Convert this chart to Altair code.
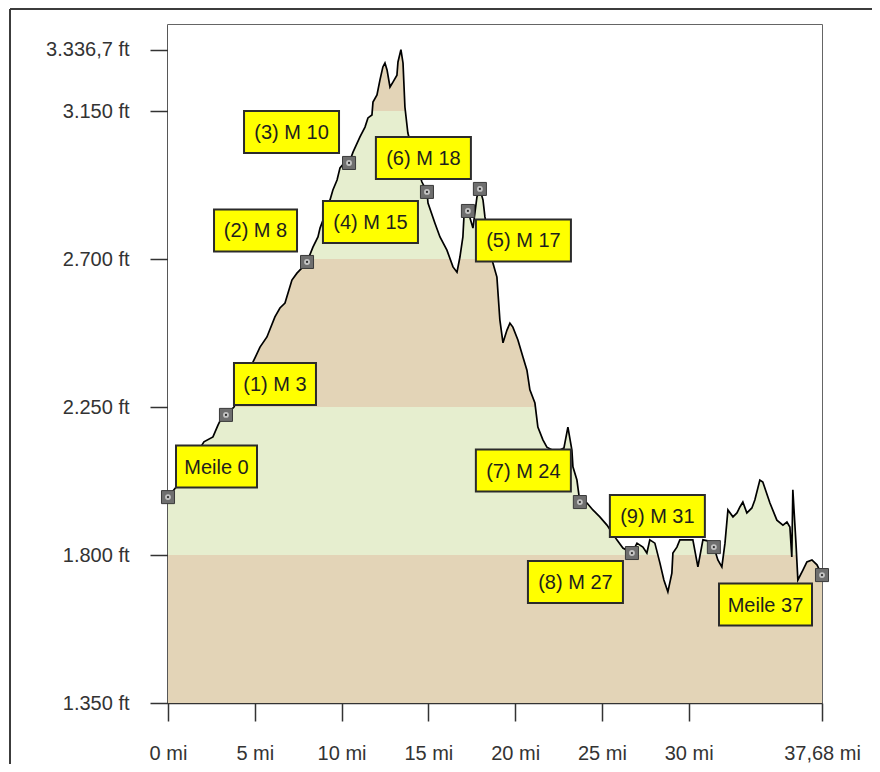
import altair as alt
import pandas as pd

# ---------------- data ----------------
profile_miles = [0.00, 0.46, 2.07, 2.59, 2.88, 3.11, 3.34, 3.80, 4.90, 5.30, 5.70, 6.16, 6.45, 6.74,
                 7.14, 7.43, 7.72, 8.01, 8.35, 8.64, 8.76, 9.04, 9.33, 9.50, 9.74, 9.91, 10.20, 10.43,
                 10.66, 11.06, 11.35, 11.52, 11.75, 11.81, 12.04, 12.21, 12.38, 12.50, 12.62, 12.79,
                 12.96, 13.19, 13.25, 13.42, 13.54, 13.65, 13.82, 14.23, 14.63, 14.92, 14.98, 15.38,
                 15.67, 16.07, 16.42, 16.65, 16.82, 16.99, 17.05, 17.28, 17.57, 17.80, 17.97, 18.15,
                 18.26, 18.49, 18.72, 18.95, 19.12, 19.30, 19.53, 19.70, 19.87, 20.16, 20.45, 20.68,
                 20.85, 21.14, 21.31, 21.60, 21.83, 22.35, 22.81, 23.04, 23.27, 23.33, 23.56, 23.62,
                 23.73, 24.14, 24.48, 24.88, 25.29, 25.86, 26.21, 26.73, 27.02, 27.36, 27.59, 27.76,
                 28.05, 28.34, 28.57, 28.80, 29.03, 29.09, 29.32, 29.49, 30.24, 30.53, 30.82, 31.34,
                 31.45, 31.68, 31.91, 32.09, 32.26, 32.55, 32.78, 32.95, 33.12, 33.35, 33.64, 33.81,
                 34.10, 34.27, 34.68, 35.08, 35.43, 35.66, 35.83, 35.94, 36.00, 36.18, 36.29, 36.58,
                 36.81, 37.10, 37.39, 37.68]
profile_feet = [1976, 2006, 2144, 2159, 2195, 2220, 2226, 2250, 2387, 2432, 2463, 2524, 2551, 2566,
                2636, 2657, 2673, 2691, 2736, 2767, 2794, 2834, 2879, 2910, 2940, 2977, 2995, 2992,
                3025, 3071, 3101, 3129, 3138, 3177, 3199, 3244, 3284, 3296, 3275, 3223,
                3238, 3259, 3299, 3336.7, 3296, 3162, 3083, 3001, 2934, 2904, 2870, 2809,
                2767, 2727, 2676, 2660, 2706, 2767, 2828, 2846, 2794, 2889, 2913, 2879,
                2828, 2758, 2688, 2645, 2515, 2445, 2484, 2505, 2493, 2454, 2402, 2362,
                2302, 2262, 2189, 2150, 2128, 2113, 2125, 2189, 2119, 2068, 2028, 2004,
                1961, 1958, 1937, 1916, 1891, 1846, 1821, 1806, 1836, 1824, 1806, 1846,
                1836, 1776, 1724, 1688, 1745, 1806, 1824, 1846, 1846, 1764, 1846, 1840,
                1824, 1785, 1764, 1836, 1937, 1916, 1928, 1946, 1961, 1928, 1943, 1967,
                2028, 2022, 1958, 1906, 1891, 1900, 1885, 1794, 1998, 1836, 1724, 1754,
                1779, 1785, 1770, 1739]

wp_names = ["Meile 0", "(1) M 3", "(2) M 8", "(3) M 10", "(4) M 15", "(5) M 17",
            "(6) M 18", "(7) M 24", "(8) M 27", "(9) M 31", "Meile 37"]
wp_miles = [0.00, 3.34, 8.01, 10.43, 14.92, 17.28, 17.97, 23.73, 26.73, 31.45, 37.68]
wp_feet = [1976, 2226, 2691, 2992, 2904, 2846, 2913, 1961, 1806, 1824, 1739]

band_low = [1350, 1800, 2250, 2700, 3150]
band_high = [1800, 2250, 2700, 3150, 3411.5]
band_kind = ["tan", "green", "tan", "green", "tan"]

x_ticks = [0, 5, 10, 15, 20, 25, 30, 37.68]
x_tick_labels = ["0 mi", "5 mi", "10 mi", "15 mi", "20 mi", "25 mi", "30 mi", "37,68 mi"]
y_ticks = [1350, 1800, 2250, 2700, 3150, 3336.7]
y_tick_labels = ["1.350 ft", "1.800 ft", "2.250 ft", "2.700 ft", "3.150 ft", "3.336,7 ft"]

# ---------------- layout (pixels) ----------------
W, H = 654, 678
X_DOM = [0, 37.68]
Y_DOM = [1350, 3411.5]
label_dx = [48.5, 49, -51.5, -57.5, -56.5, 55.5, -56.5, -56.5, -56.5, -56.5, -56.5]
label_dy = [-30.5, -31, -31.5, -31, 30, 29.5, -31, -31.5, 29, -31, 29.5]
label_w = [81, 82, 83, 95, 95, 95, 95, 95, 95, 95, 93]
LABEL_H = 42

FONT = "Liberation Sans"
INK = "#333333"

px_per_mi = W / (X_DOM[1] - X_DOM[0])
px_per_ft = H / (Y_DOM[1] - Y_DOM[0])

prof = pd.DataFrame({"mile": profile_miles, "elev": profile_feet})
prof["top"] = Y_DOM[1]

bands = pd.DataFrame({"lo": band_low, "hi": band_high, "kind": band_kind})
bands["x0"] = X_DOM[0]
bands["x1"] = X_DOM[1]

wp = pd.DataFrame({"name": wp_names, "mile": wp_miles, "elev": wp_feet,
                   "dx": label_dx, "dy": label_dy, "w": label_w})
wp["cx"] = wp["mile"] + wp["dx"] / px_per_mi
wp["cy"] = wp["elev"] - wp["dy"] / px_per_ft
wp["bx0"] = wp["cx"] - wp["w"] / 2 / px_per_mi
wp["bx1"] = wp["cx"] + wp["w"] / 2 / px_per_mi
wp["by0"] = wp["cy"] - LABEL_H / 2 / px_per_ft
wp["by1"] = wp["cy"] + LABEL_H / 2 / px_per_ft


def label_expr(vals, labs):
    e = "''"
    for v, l in reversed(list(zip(vals, labs))):
        e = f"abs(datum.value - {v}) < 0.001 ? '{l}' : ({e})"
    return e


x_scale = alt.Scale(domain=X_DOM, nice=False, zero=False)
y_scale = alt.Scale(domain=Y_DOM, nice=False, zero=False)
common_axis = dict(tickSize=18, tickColor=INK, tickWidth=1.5, domainColor=INK, domainWidth=1.5,
                   labelFont=FONT, labelFontSize=20, labelColor=INK, grid=False, title=None,
                   labelOverlap=False, labelFlush=False)
x_axis = alt.Axis(values=x_ticks, labelExpr=label_expr(x_ticks, x_tick_labels), labelPadding=22,
                  **common_axis)
y_axis = alt.Axis(values=y_ticks, labelExpr=label_expr(y_ticks, y_tick_labels), labelPadding=21,
                  **common_axis)


def X(f):
    return alt.X(f, type="quantitative", scale=x_scale, axis=x_axis)


def Y(f):
    return alt.Y(f, type="quantitative", scale=y_scale, axis=y_axis)


band_layer = alt.Chart(bands).mark_rect(strokeWidth=0).encode(
    x=X("x0"), x2="x1", y=Y("lo"), y2="hi",
    color=alt.Color("kind:N", scale=alt.Scale(domain=["tan", "green"], range=["#e3d4b7", "#e6eecf"]),
                    legend=None),
)

mask = alt.Chart(prof).mark_area(color="white", opacity=1).encode(
    x=X("mile"), y=Y("elev"), y2="top"
)

line = alt.Chart(prof).mark_line(color="#000000", strokeWidth=1.7).encode(
    x=X("mile"), y=Y("elev")
)

marker_sq = alt.Chart(wp).mark_point(shape="square", filled=True, size=170, color="#6f6f6f",
                                     stroke="#3a3a3a", strokeWidth=1, opacity=1).encode(
    x=X("mile"), y=Y("elev")
)
marker_ring = alt.Chart(wp).mark_point(shape="circle", filled=True, size=34, color="#c4c4c4",
                                       opacity=1).encode(x=X("mile"), y=Y("elev"))
marker_dot = alt.Chart(wp).mark_point(shape="circle", filled=True, size=5, color="#2a2a2a",
                                      opacity=1).encode(x=X("mile"), y=Y("elev"))

boxes = alt.Chart(wp).mark_rect(color="#ffff00", stroke="#2b2b2b", strokeWidth=2).encode(
    x=X("bx0"), x2="bx1", y=Y("by0"), y2="by1"
)
texts = alt.Chart(wp).mark_text(font=FONT, fontSize=20, color="#1e1e1e", align="center",
                                baseline="middle", dy=1).encode(
    x=X("cx"), y=Y("cy"), text="name:N"
)

dummy = pd.DataFrame({"a": [0]})
frame_left = alt.Chart(dummy).mark_rule(color="#3c3c3c", strokeWidth=2).encode(
    x=alt.value(-158), y=alt.value(-16), y2=alt.value(760)
)
frame_top = alt.Chart(dummy).mark_rule(color="#3c3c3c", strokeWidth=2).encode(
    x=alt.value(-158), x2=alt.value(720), y=alt.value(-16)
)

chart = alt.layer(
    band_layer, mask, line, marker_sq, marker_ring, marker_dot, boxes, texts, frame_left, frame_top
).properties(
    width=W, height=H, background="white",
    padding={"left": 160, "top": 17, "right": 50, "bottom": 61},
    autosize=alt.AutoSizeParams(type="none"),
).configure_view(stroke=INK, strokeWidth=1.5)

chart.save("out.html", embed_options={"renderer": "svg", "actions": False})
